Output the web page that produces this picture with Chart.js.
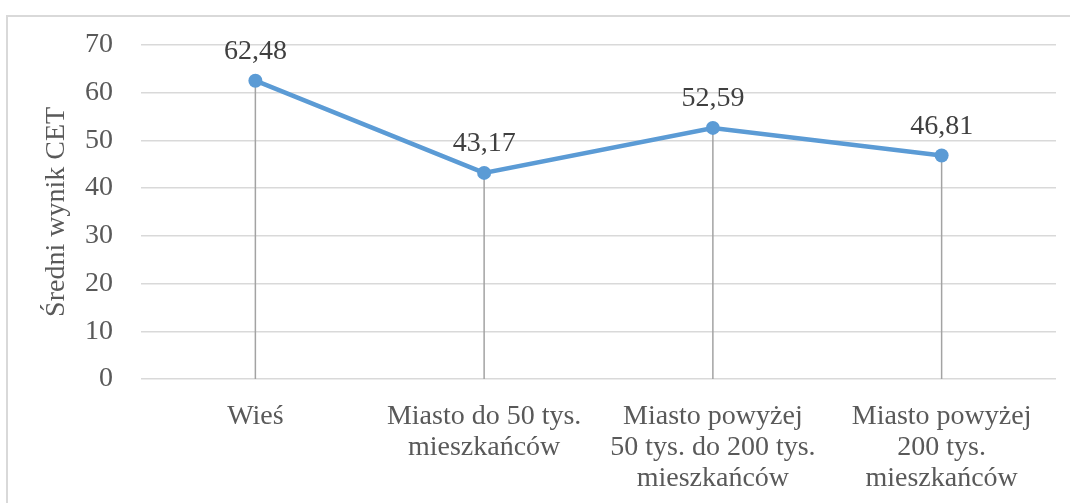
<!DOCTYPE html>
<html>
<head>
<meta charset="utf-8">
<script src="https://cdn.jsdelivr.net/npm/chart.js@4/dist/chart.umd.min.js"></script>
<style>
  html, body { margin: 0; padding: 0; background: #fff; overflow: hidden; }
  #wrap { position: relative; width: 1070px; height: 503px; }
  #frame { position: absolute; left: 6px; top: 15px; width: 2000px; height: 2000px;
           border: 2px solid #d9d9d9; box-sizing: border-box; }
  canvas { position: absolute; left: 0; top: 0; }
</style>
</head>
<body>
<div id="wrap">
  <div id="frame"></div>
  <canvas id="chart" width="1070" height="503"></canvas>
</div>
<script>
const categories = [
  ['Wieś'],
  ['Miasto do 50 tys.', 'mieszkańców'],
  ['Miasto powyżej', '50 tys. do 200 tys.', 'mieszkańców'],
  ['Miasto powyżej', '200 tys.', 'mieszkańców']
];
const scores = [62.48, 43.17, 52.59, 46.81];
const yTitle = 'Średni wynik CET';

const FONT = "'Liberation Serif', 'Times New Roman', serif";

// gray drop lines from each point down to the axis
const dropLines = {
  id: 'dropLines',
  beforeDatasetsDraw(chart) {
    const ctx = chart.ctx;
    const y0 = chart.scales.y.getPixelForValue(0);
    const meta = chart.getDatasetMeta(0);
    ctx.save();
    ctx.strokeStyle = '#a3a3a3';
    ctx.lineWidth = 1.5;
    meta.data.forEach(pt => {
      ctx.beginPath();
      ctx.moveTo(pt.x, pt.y);
      ctx.lineTo(pt.x, y0);
      ctx.stroke();
    });
    ctx.restore();
  }
};

// value labels above the points, decimal comma
const valueLabels = {
  id: 'valueLabels',
  afterDatasetsDraw(chart) {
    const ctx = chart.ctx;
    const ds = chart.data.datasets[0];
    const meta = chart.getDatasetMeta(0);
    ctx.save();
    ctx.font = '28px ' + FONT;
    ctx.fillStyle = '#404040';
    ctx.textAlign = 'center';
    ctx.textBaseline = 'alphabetic';
    meta.data.forEach((pt, i) => {
      ctx.fillText(ds.data[i].toFixed(2).replace('.', ','), pt.x, pt.y - 22);
    });
    ctx.restore();
  }
};

new Chart(document.getElementById('chart'), {
  type: 'line',
  data: {
    labels: categories,
    datasets: [{
      data: scores,
      borderColor: '#5b9bd5',
      backgroundColor: '#5b9bd5',
      borderWidth: 4.5,
      pointRadius: 7,
      pointHoverRadius: 7,
      pointBackgroundColor: '#5b9bd5',
      pointBorderWidth: 0,
      tension: 0
    }]
  },
  options: {
    responsive: false,
    animation: false,
    layout: { padding: { left: 40, top: 44, right: 14, bottom: 0 } },
    plugins: {
      legend: { display: false },
      tooltip: { enabled: false }
    },
    scales: {
      x: {
        offset: true,
        grid: { display: false },
        border: { display: false },
        ticks: {
          color: '#595959',
          font: { family: FONT, size: 28, lineHeight: '31px' },
          maxRotation: 0,
          autoSkip: false,
          padding: 14
        },
        afterFit(scale) { scale.height = 124; }
      },
      y: {
        min: 0,
        max: 70,
        ticks: {
          stepSize: 10,
          color: '#595959',
          font: { family: FONT, size: 28 },
          padding: 28
        },
        grid: { color: '#d9d9d9', lineWidth: 1.5, drawTicks: false },
        border: { display: false },
        title: {
          display: true,
          text: yTitle,
          color: '#595959',
          font: { family: FONT, size: 28 },
          padding: 0
        },
        afterFit(scale) { scale.width = 101; }
      }
    }
  },
  plugins: [dropLines, valueLabels]
});
</script>
</body>
</html>
